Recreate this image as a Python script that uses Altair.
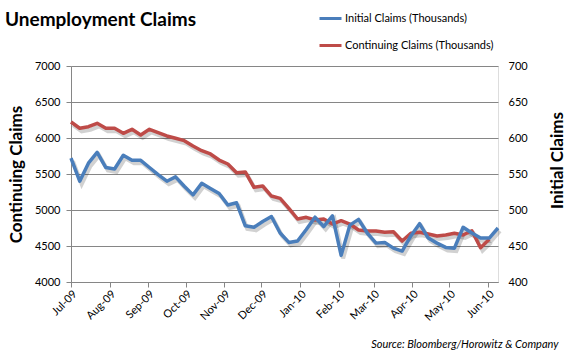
import altair as alt
import pandas as pd

INIT = "Initial Claims (Thousands)"
CONT = "Continuing Claims (Thousands)"

# weekly observations, first week ending 2009-07-04
week_dates = pd.date_range("2009-07-04", periods=50, freq="7D").strftime("%Y-%m-%d").tolist()

initial_claims = [572, 540, 565, 580, 559, 557, 576, 569, 569, 559,
                  549, 540, 546, 533, 521, 537, 530, 523, 507, 510,
                  478, 476, 484, 491, 468, 455, 457, 473, 490, 477,
                  492, 437, 479, 487, 468, 454, 455, 447, 443, 464,
                  481, 461, 454, 448, 447, 476, 468, 461, 461, 475]

continuing_claims = [6222, 6135, 6157, 6204, 6135, 6135, 6065, 6121, 6042, 6121,
                     6074, 6028, 5996, 5963, 5889, 5824, 5778, 5694, 5639, 5518,
                     5528, 5315, 5333, 5194, 5162, 5023, 4875, 4898, 4861, 4875,
                     4805, 4851, 4805, 4722, 4708, 4708, 4690, 4698, 4569, 4676,
                     4690, 4666, 4639, 4653, 4676, 4653, 4712, 4476, 4593]

month_ticks = [(2009, 7), (2009, 8), (2009, 9), (2009, 10), (2009, 11), (2009, 12),
               (2010, 1), (2010, 2), (2010, 3), (2010, 4), (2010, 5), (2010, 6)]
left_ticks = [4000, 4500, 5000, 5500, 6000, 6500, 7000]
right_ticks = [400, 450, 500, 550, 600, 650, 700]

df_init = pd.DataFrame({"date": week_dates, "value": initial_claims, "series": INIT})
df_cont = pd.DataFrame({"date": week_dates[:len(continuing_claims)],
                        "value": continuing_claims, "series": CONT})

BLUE = "#4A7EBB"
RED = "#BE4B48"
GRID = "#868686"
FONT = "Lato"

x_enc = alt.X(
    "date:T",
    scale=alt.Scale(type="utc", nice=False,
                    domain=[alt.DateTime(year=2009, month=7, date=4, utc=True),
                            alt.DateTime(year=2010, month=6, date=12, utc=True)]),
    axis=alt.Axis(
        values=[alt.DateTime(year=y, month=m, date=4, utc=True) for y, m in month_ticks],
        format="%b-%y", labelAngle=315, labelAlign="right", labelBaseline="middle",
        labelPadding=5, labelOffset=4, labelFontSize=11, labelFont=FONT,
        labelColor="#000000",
        domainColor=GRID, tickColor=GRID, tickSize=5, grid=False,
        title="Source: Bloomberg/Horowitz & Company", titleFont=FONT,
        titleFontSize=11, titleFontStyle="italic", titleFontWeight="normal",
        titleAlign="right", titleBaseline="alphabetic", titleX=487, titleY=65,
        titleColor="#000000",
    ),
)

color_enc = alt.Color(
    "series:N",
    scale=alt.Scale(domain=[INIT, CONT], range=[BLUE, RED]),
    legend=alt.Legend(
        orient="none", legendX=247, legendY=-60, title=None,
        symbolType="stroke", symbolSize=484, symbolStrokeWidth=3,
        labelFont=FONT, labelFontSize=11, labelColor="#000000",
        rowPadding=8, labelOffset=2,
    ),
)

left_scale = alt.Scale(domain=[4000, 7000], nice=False, zero=False)
right_scale = alt.Scale(domain=[400, 700], nice=False, zero=False)

red_shadow = alt.Chart(df_cont).mark_line(
    color="#000000", opacity=0.18, strokeWidth=4, xOffset=2, yOffset=3
).encode(x=x_enc, y=alt.Y("value:Q", scale=left_scale, axis=None))

blue_shadow = alt.Chart(df_init).mark_line(
    color="#000000", opacity=0.18, strokeWidth=4, xOffset=2, yOffset=3
).encode(x=x_enc, y=alt.Y("value:Q", scale=right_scale, axis=None))

red_line = alt.Chart(df_cont).mark_line(strokeWidth=3.5, strokeJoin="round").encode(
    x=x_enc,
    y=alt.Y("value:Q", scale=left_scale,
            axis=alt.Axis(orient="left", values=left_ticks, format="d",
                          grid=True, gridColor=GRID, domainColor=GRID,
                          tickColor=GRID, tickSize=5, labelPadding=6,
                          labelFont=FONT, labelFontSize=11, labelColor="#000000",
                          title="Continuing Claims", titleFont=FONT,
                          titleFontSize=17, titleFontWeight="bold",
                          titleColor="#000000", titleAngle=270,
                          titleAlign="center", titleBaseline="middle",
                          titleX=-55, titleY=108)),
    color=color_enc,
)

blue_line = alt.Chart(df_init).mark_line(strokeWidth=3.5, strokeJoin="round").encode(
    x=x_enc,
    y=alt.Y("value:Q", scale=right_scale,
            axis=alt.Axis(orient="right", values=right_ticks, format="d",
                          grid=False, domain=False, ticks=False, tickSize=0,
                          labelPadding=10, labelFont=FONT, labelFontSize=11,
                          labelColor="#000000",
                          title="Initial Claims", titleFont=FONT,
                          titleFontSize=17, titleFontWeight="bold",
                          titleColor="#000000", titleAngle=270,
                          titleAlign="center", titleBaseline="middle",
                          titleX=59, titleY=94)),
    color=color_enc,
)

chart = alt.layer(red_shadow, blue_shadow, red_line, blue_line).resolve_scale(
    y="independent"
).properties(
    width=427,
    height=216,
    title=alt.TitleParams("Unemployment Claims", anchor="start", frame="group",
                          font=FONT, fontSize=19, fontWeight="bold",
                          color="#000000", dx=-66, dy=28),
    autosize=alt.AutoSizeParams(type="none"),
    padding={"left": 71, "top": 66, "right": 70, "bottom": 72},
).configure_view(stroke=None).configure(background="white")

chart.save("out.html", embed_options={"renderer": "svg", "actions": False})
